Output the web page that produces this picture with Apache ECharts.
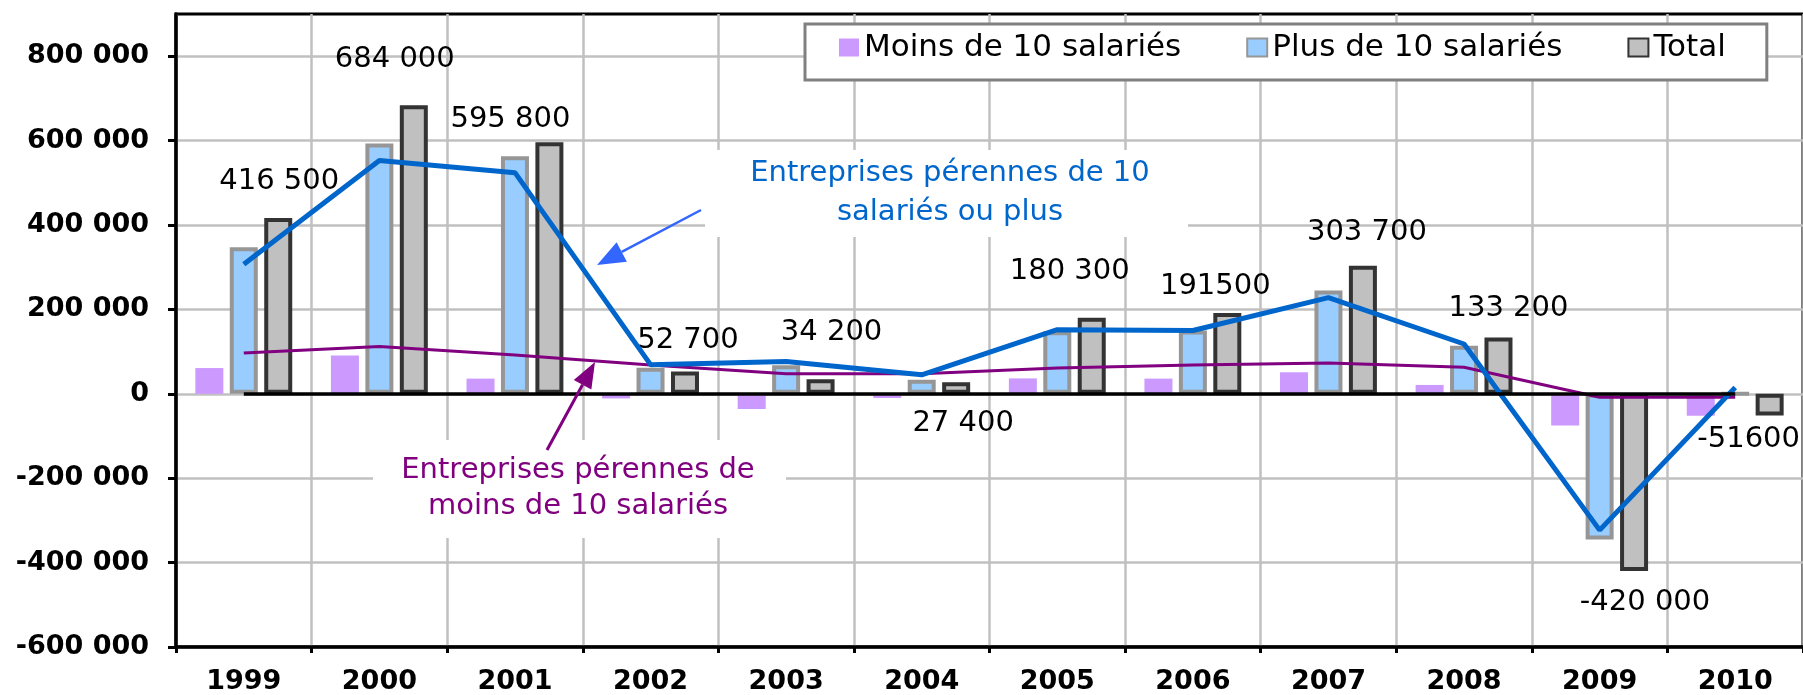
<!DOCTYPE html>
<html>
<head>
<meta charset="utf-8">
<script src="https://cdn.jsdelivr.net/npm/echarts@6/dist/echarts.min.js"></script>
<style>
  html, body { margin: 0; padding: 0; background: #fff; }
  #chart { width: 1803px; height: 695px; }
</style>
</head>
<body>
<div id="chart"></div>
<script>
// ---- data ----
const categories = ['1999','2000','2001','2002','2003','2004','2005','2006','2007','2008','2009','2010'];
const moins10 = [61000, 91000, 36000, -11000, -36000, -10000, 36500, 36000, 51000, 21000, -75000, -52000];
const plus10  = [347000, 593000, 563000, 62000, 67500, 33000, 148000, 150000, 245000, 114000, -345000, 400];
const total   = [416500, 684000, 595800, 52700, 34200, 27400, 180300, 191500, 303700, 133200, -420000, -51600];
const totalLabels = ['416 500','684 000','595 800','52 700','34 200','27 400','180 300','191500','303 700','133 200','-420 000','-51600'];
const perennesPlus10  = [307000, 553000, 524000, 69000, 76500, 45000, 152000, 150000, 228000, 118000, -323000, 15000];
const perennesMoins10 = [96500, 112000, 92000, 68000, 47500, 47500, 61000, 68000, 73000, 63000, -8000, -8000];
const yTicks = [-600000, -400000, -200000, 0, 200000, 400000, 600000, 800000];

// label placement tweaks (layout only)
const labelOffsets = [[1,-17],[-19,-26],[-39,-3],[3,-12],[11,-27],[7,61],[-22,-27],[-12,-7],[4,-14],[10,-10],[11,12],[-21,4]];

function fmt(v) {
  const s = String(Math.abs(v)).replace(/\B(?=(\d{3})+(?!\d))/g, ' ');
  return (v < 0 ? '-' : '') + s;
}

const chart = echarts.init(document.getElementById('chart'), null, {renderer: 'canvas'});
const FONT = 'DejaVu Sans';

function arrow(x1, y1, tx, ty, len, half, color, width) {
  const dx = tx - x1, dy = ty - y1;
  const L = Math.sqrt(dx*dx + dy*dy);
  const ux = dx / L, uy = dy / L;
  const bx = tx - ux * len, by = ty - uy * len;
  const px = -uy * half, py = ux * half;
  return [
    { type: 'line', z: 6, shape: { x1: x1, y1: y1, x2: bx, y2: by }, style: { stroke: color, lineWidth: width } },
    { type: 'polygon', z: 6, shape: { points: [[tx, ty], [bx + px, by + py], [bx - px, by - py]] }, style: { fill: color } }
  ];
}

const option = {
  animation: false,
  backgroundColor: '#fff',
  grid: { left: 176, right: -3, top: 14, bottom: 47, show: true, borderColor: '#000', borderWidth: 3, backgroundColor: 'transparent' },
  legend: {
    data: ['Moins de 10 salariés', 'Plus de 10 salariés', 'Total'],
    left: 805, top: 24,
    itemWidth: 20, itemHeight: 18, itemGap: 65,
    padding: [8, 41, 17, 34],
    backgroundColor: '#fff', borderColor: '#808080', borderWidth: 3,
    icon: 'rect',
    textStyle: { fontFamily: FONT, fontSize: 31, color: '#000', lineHeight: 30 }
  },
  xAxis: {
    type: 'category',
    data: categories,
    boundaryGap: true,
    axisLine: { onZero: false, lineStyle: { color: '#000', width: 3.5 } },
    axisTick: { show: true, interval: 0, length: 6, lineStyle: { color: '#000', width: 3 } },
    axisLabel: { interval: 0, margin: 21, fontFamily: FONT, fontWeight: 'bold', fontSize: 27, color: '#000' },
    splitLine: { show: true, interval: 0, lineStyle: { color: '#C0C0C0', width: 2.5 } }
  },
  yAxis: {
    type: 'value',
    min: -600000, max: 900000, interval: 200000,
    axisLine: { show: true, lineStyle: { color: '#000', width: 3.5 } },
    axisTick: { show: true, length: 8, customValues: yTicks, lineStyle: { color: '#000', width: 3 } },
    axisLabel: { customValues: yTicks, margin: 27, fontFamily: FONT, fontWeight: 'bold', fontSize: 27, color: '#000', formatter: fmt },
    splitLine: { show: true, lineStyle: { color: '#C0C0C0', width: 2.5 } }
  },
  series: [
    {
      name: 'Moins de 10 salariés', type: 'bar', data: moins10,
      barWidth: 28, barGap: '23%', z: 2,
      itemStyle: { color: '#CC99FF' }
    },
    {
      name: 'Plus de 10 salariés', type: 'bar', data: plus10,
      barWidth: 28, barGap: '23%', z: 2,
      itemStyle: { color: '#99CCFF', borderColor: '#969696', borderWidth: 4 }
    },
    {
      name: 'Total', type: 'bar', barWidth: 28, barGap: '23%', z: 2,
      data: total.map((v, i) => ({ value: v, label: { offset: labelOffsets[i] } })),
      itemStyle: { color: '#C0C0C0', borderColor: '#333333', borderWidth: 4 },
      label: {
        show: true, position: 'outside', distance: 5,
        fontFamily: FONT, fontSize: 29, color: '#000',
        formatter: p => totalLabels[p.dataIndex]
      }
    },
    {
      name: 'Entreprises pérennes de moins de 10 salariés', type: 'line', data: perennesMoins10,
      symbol: 'none', z: 3,
      lineStyle: { color: '#800080', width: 3 },
      markLine: {
        silent: true, symbol: ['none', 'none'], label: { show: false },
        lineStyle: { color: '#000', width: 3.5, type: 'solid' },
        data: [[{ coord: [categories[0], 0] }, { coord: [categories[categories.length - 1], 0] }]]
      }
    },
    {
      name: 'Entreprises pérennes de 10 salariés ou plus', type: 'line', data: perennesPlus10,
      symbol: 'none', z: 4,
      lineStyle: { color: '#0066CC', width: 5 }
    }
  ],
  graphic: {
    elements: [
      { type: 'rect', z: 1, shape: { x: 705, y: 150, width: 483, height: 87 }, style: { fill: '#fff' } },
      { type: 'rect', z: 1, shape: { x: 373, y: 440, width: 413, height: 98 }, style: { fill: '#fff' } },
      { type: 'text', z: 6, x: 950, y: 173, style: { text: 'Entreprises pérennes de 10', fill: '#0066CC', font: '29px "DejaVu Sans"', align: 'center', verticalAlign: 'middle' } },
      { type: 'text', z: 6, x: 950, y: 212, style: { text: 'salariés ou plus', fill: '#0066CC', font: '29px "DejaVu Sans"', align: 'center', verticalAlign: 'middle' } },
      { type: 'text', z: 6, x: 578, y: 470, style: { text: 'Entreprises pérennes de', fill: '#800080', font: '29px "DejaVu Sans"', align: 'center', verticalAlign: 'middle' } },
      { type: 'text', z: 6, x: 578, y: 506, style: { text: 'moins de 10 salariés', fill: '#800080', font: '29px "DejaVu Sans"', align: 'center', verticalAlign: 'middle' } }
    ].concat(arrow(701, 210, 597, 265, 28, 11, '#3366FF', 2.5))
     .concat(arrow(547, 450, 595, 362, 26, 10, '#800080', 3))
  }
};
chart.setOption(option);
</script>
</body>
</html>
